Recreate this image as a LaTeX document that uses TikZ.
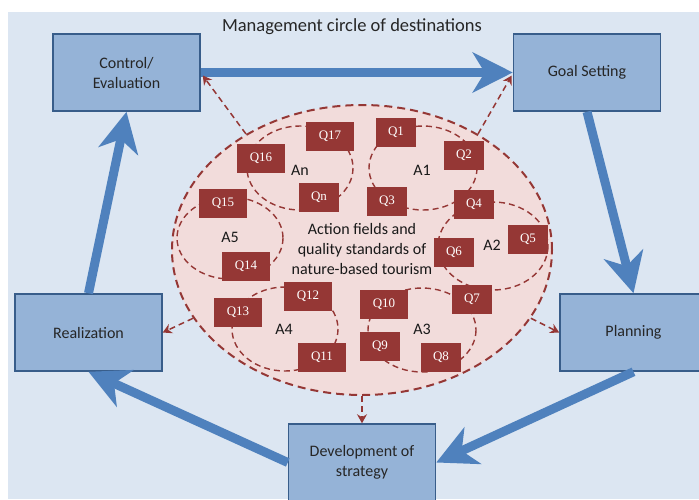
\documentclass[tikz,border=0pt]{standalone}
\usepackage{fontspec}
\setmainfont{Carlito}
\newfontfamily\qfont{Liberation Serif}
\usetikzlibrary{arrows.meta,shapes.geometric,calc}
\definecolor{bgblue}{HTML}{DCE6F2}
\definecolor{boxfill}{HTML}{95B3D7}
\definecolor{boxline}{HTML}{385D8A}
\definecolor{arrblue}{HTML}{4F81BD}
\definecolor{qred}{HTML}{953735}
\definecolor{pinkfill}{HTML}{F2DCDB}
\begin{document}
\begin{tikzpicture}[x=1pt,y=-1pt,
 stagebox/.style={draw=boxline,line width=1.5pt,fill=boxfill,minimum width=147pt,minimum height=77pt,inner sep=0pt,align=center,font=\fontsize{16}{20}\selectfont,text=black!85},
 bigarrow/.style={draw=arrblue,line width=9pt,-{Stealth[length=40pt,width=40pt,inset=12pt]}},
 qbox/.style={fill=qred,text=white,minimum height=29pt,inner sep=0pt,font=\qfont\fontsize{13}{14}\selectfont},
 qwide/.style={qbox,minimum width=48pt},
 qnarrow/.style={qbox,minimum width=40pt},
 looppath/.style={draw=qred,line width=1.4pt,dash pattern=on 6pt off 4pt},
 redarrow/.style={draw=qred,line width=1.5pt,dash pattern=on 6pt off 4pt,-{Stealth[length=9pt,width=10pt,inset=3pt]}},
 alabel/.style={font=\fontsize{16}{18}\selectfont,text=black!90}
]
\useasboundingbox (0,0) rectangle (699,499);
\clip (0,0) rectangle (699,499);
\fill[bgblue] (8,12) rectangle (699,499);

% title
\node[font=\fontsize{18.5}{22}\selectfont,text=black!85] (title) at (352,27) {Management circle of destinations};

% stage boxes
\node[stagebox] (ctrl) at (126.5,72.5) {Control/\\Evaluation};
\node[stagebox] (goal) at (587,72.5) {Goal Setting};
\node[stagebox] (plan) at (633.5,332.5) {Planning};
\node[stagebox] (dev) at (362,462.5) {Development of\\strategy};
\node[stagebox] (real) at (88.5,332.5) {Realization};

% big cycle arrows
\draw[bigarrow] (ctrl.east) -- (goal.west);
\draw[bigarrow] (goal.south) -- (plan.north);
\draw[bigarrow] (plan.south) -- (dev.east);
\draw[bigarrow] (dev.west) -- (real.south);
\draw[bigarrow] (real.north) -- (ctrl.south);

% central ellipse
\node[ellipse,draw=qred,fill=pinkfill,line width=2pt,dash pattern=on 8pt off 5pt,minimum width=380pt,minimum height=290pt,inner sep=0pt] (qe) at (362,250) {};

% dashed arrows out of the ellipse
\draw[redarrow] (qe.135) -- ($(ctrl.east)+(2,3)$);
\draw[redarrow] (qe.45) -- ($(goal.west)+(-1,3)$);
\draw[redarrow] (qe.202) -- (real.east);
\draw[redarrow] (qe.338) -- (plan.west);
\draw[redarrow] (qe.south) -- (dev.north);

% loops of action fields
\draw[looppath] (300,168) ellipse [x radius=53, y radius=42];
\draw[looppath] (423,168) ellipse [x radius=54, y radius=42];
\draw[looppath] (493,246) ellipse [x radius=55, y radius=44];
\draw[looppath] (422,330) ellipse [x radius=54, y radius=42];
\draw[looppath] (285,329) ellipse [x radius=53, y radius=42];
\draw[looppath] (230,238) ellipse [x radius=53, y radius=41];

% area labels
\node[alabel] (an) at (300,170) {An};
\node[alabel] (a1) at (422,170) {A1};
\node[alabel] (a2) at (492,245) {A2};
\node[alabel] (a3) at (422,329) {A3};
\node[alabel] (a4) at (284,329) {A4};
\node[alabel] (a5) at (230,237) {A5};

% centre text
\node[align=center,font=\fontsize{16}{20}\selectfont,text=black!90] (ctext) at (362,249) {Action fields and\\quality standards of\\nature-based tourism};

% Q boxes
\node[qwide] (q17) at (330,136) {Q17};
\node[qnarrow] (q1) at (396,132) {Q1};
\node[qwide] (q16) at (261,158) {Q16};
\node[qnarrow] (q2) at (464,155) {Q2};
\node[qnarrow] (qn) at (319,197) {Qn};
\node[qnarrow] (q3) at (387,201) {Q3};
\node[qnarrow] (q4) at (474,204) {Q4};
\node[qwide] (q15) at (223,203) {Q15};
\node[qnarrow] (q5) at (528,239) {Q5};
\node[qnarrow] (q6) at (454,252) {Q6};
\node[qwide] (q14) at (246,266) {Q14};
\node[qwide] (q12) at (308,296) {Q12};
\node[qwide] (q13) at (238,312) {Q13};
\node[qwide] (q10) at (384,304) {Q10};
\node[qnarrow] (q7) at (472,299) {Q7};
\node[qnarrow] (q9) at (380,346) {Q9};
\node[qwide] (q11) at (322,357) {Q11};
\node[qnarrow] (q8) at (441,357) {Q8};
\end{tikzpicture}
\end{document}
